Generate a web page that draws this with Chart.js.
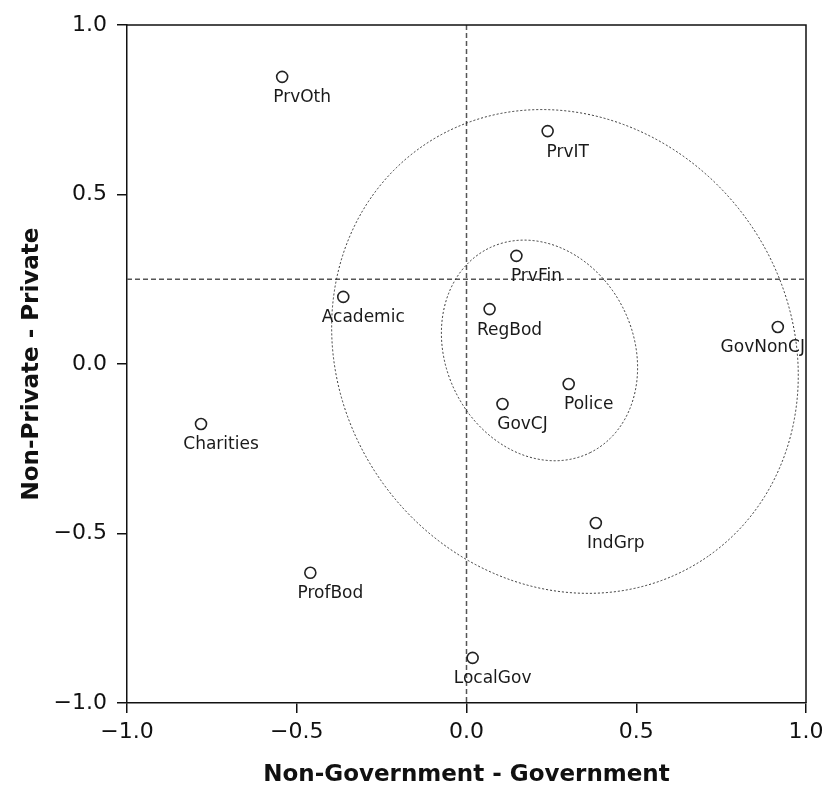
<!DOCTYPE html>
<html lang="en">
<head>
<meta charset="UTF-8">
<title>Scatter</title>
<script src="https://cdn.jsdelivr.net/npm/chart.js@4.4.0/dist/chart.umd.min.js"></script>
<style>
  body { margin: 0; background: #fff; }
  #wrap { position: relative; width: 824px; height: 787px; }
</style>
</head>
<body>
<div id="wrap"><canvas id="mapChart"></canvas></div>
<script>
// point data
const pointLabels = ['PrvOth', 'PrvIT', 'PrvFin', 'Academic', 'RegBod', 'GovNonCJ', 'Police', 'GovCJ', 'Charities', 'IndGrp', 'ProfBod', 'LocalGov'];
const xValues = [-0.543, 0.239, 0.147, -0.363, 0.068, 0.917, 0.301, 0.106, -0.782, 0.381, -0.460, 0.018];
const yValues = [0.847, 0.687, 0.319, 0.198, 0.162, 0.109, -0.059, -0.118, -0.177, -0.469, -0.616, -0.867];

// axis ticks
const tickValues = [-1, -0.5, 0, 0.5, 1];
const tickLabels = ['\u22121.0', '\u22120.5', '0.0', '0.5', '1.0'];

// dashed reference lines
const refX = [0];
const refY = [0.25];

// dotted ellipses (centre, semi axes in data units, rotation in degrees)
const ellipseCx = [0.29, 0.215];
const ellipseCy = [0.037, 0.04];
const ellipseA = [0.736, 0.336];
const ellipseB = [0.662, 0.276];
const ellipseRot = [55, 63.5];

const FONT = "'DejaVu Sans', sans-serif";

const overlay = {
  id: 'overlay',
  beforeDatasetsDraw(chart) {
    const { ctx, chartArea: a, scales: { x, y } } = chart;
    ctx.save();
    // reference lines
    ctx.strokeStyle = '#555';
    ctx.lineWidth = 1.5;
    ctx.setLineDash([5, 3]);
    refX.forEach(v => {
      const px = x.getPixelForValue(v);
      ctx.beginPath(); ctx.moveTo(px, a.top); ctx.lineTo(px, a.bottom); ctx.stroke();
    });
    refY.forEach(v => {
      const py = y.getPixelForValue(v);
      ctx.beginPath(); ctx.moveTo(a.left, py); ctx.lineTo(a.right, py); ctx.stroke();
    });
    // ellipses
    ctx.strokeStyle = '#222';
    ctx.lineWidth = 0.9;
    ctx.setLineDash([2, 2]);
    const ux = x.getPixelForValue(1) - x.getPixelForValue(0);
    ellipseCx.forEach((cx, i) => {
      ctx.beginPath();
      ctx.ellipse(x.getPixelForValue(cx), y.getPixelForValue(ellipseCy[i]),
        ellipseA[i] * ux, ellipseB[i] * ux, ellipseRot[i] * Math.PI / 180, 0, Math.PI * 2);
      ctx.stroke();
    });
    ctx.restore();
  },
  afterDatasetsDraw(chart) {
    const { ctx, chartArea: a } = chart;
    ctx.save();
    // frame top/right
    ctx.strokeStyle = '#111';
    ctx.lineWidth = 1.5;
    ctx.beginPath();
    ctx.moveTo(a.left, a.top); ctx.lineTo(a.right, a.top); ctx.lineTo(a.right, a.bottom);
    ctx.stroke();
    // point labels
    ctx.fillStyle = '#1a1a1a';
    ctx.font = '17px ' + FONT;
    ctx.textAlign = 'center';
    ctx.textBaseline = 'middle';
    chart.getDatasetMeta(0).data.forEach((pt, i) => {
      const txt = pointLabels[i];
      const w = ctx.measureText(txt).width;
      let cx = pt.x + 20;
      if (cx + w / 2 > a.right - 1) cx = a.right - 1 - w / 2;
      ctx.fillText(txt, cx, pt.y + 21);
    });
    ctx.restore();
  }
};

new Chart(document.getElementById('mapChart'), {
  type: 'scatter',
  data: {
    datasets: [{
      data: xValues.map((v, i) => ({ x: v, y: yValues[i] })),
      pointRadius: 5.5,
      pointHoverRadius: 5.5,
      pointBorderWidth: 1.6,
      pointBorderColor: '#222',
      pointBackgroundColor: '#fff'
    }]
  },
  plugins: [overlay],
  options: {
    responsive: true,
    maintainAspectRatio: false,
    animation: false,
    layout: { padding: { top: 25, right: 18, left: 0, bottom: 0 } },
    plugins: { legend: { display: false }, tooltip: { enabled: false } },
    scales: {
      x: {
        type: 'linear', min: -1, max: 1,
        afterBuildTicks: axis => { axis.ticks = tickValues.map(v => ({ value: v })); },
        afterFit: scale => { scale.height = 84; scale.paddingRight = 0; scale.paddingLeft = 0; },
        ticks: { color: '#111', padding: 6, font: { size: 22, family: FONT },
          callback: (v, i) => tickLabels[i] },
        grid: { drawOnChartArea: false, drawTicks: true, tickLength: 10, color: '#111', lineWidth: 1.5 },
        border: { display: true, color: '#111', width: 1.5 },
        title: { display: true, text: 'Non-Government - Government', color: '#111',
          font: { size: 23, weight: 'bold', family: FONT }, padding: { top: 0, bottom: -2 } }
      },
      y: {
        type: 'linear', min: -1, max: 1,
        afterBuildTicks: axis => { axis.ticks = tickValues.map(v => ({ value: v })); },
        afterFit: scale => { scale.width = 127; scale.paddingTop = 0; scale.paddingBottom = 0; },
        ticks: { color: '#111', padding: 10, font: { size: 22, family: FONT },
          callback: (v, i) => tickLabels[i] },
        grid: { drawOnChartArea: false, drawTicks: true, tickLength: 10, color: '#111', lineWidth: 1.5 },
        border: { display: true, color: '#111', width: 1.5 },
        title: { display: true, text: 'Non-Private - Private', color: '#111',
          font: { size: 23, weight: 'bold', family: FONT }, padding: { top: 18, bottom: 0 } }
      }
    }
  }
});
</script>
</body>
</html>
